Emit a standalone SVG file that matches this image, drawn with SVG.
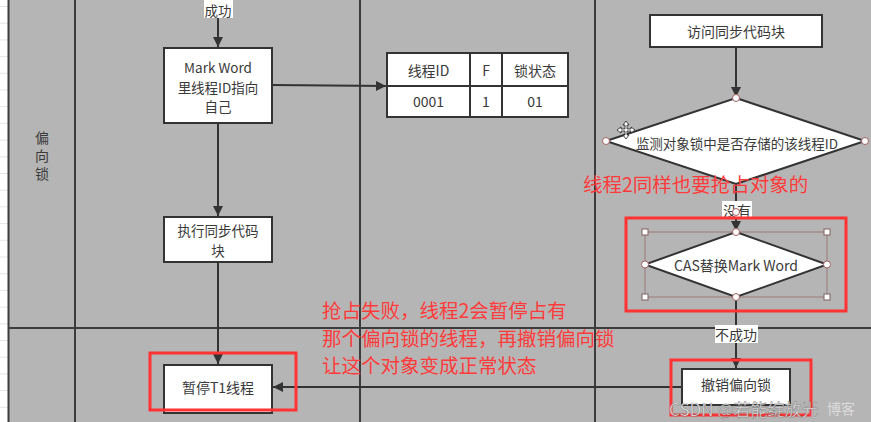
<svg xmlns="http://www.w3.org/2000/svg" width="871" height="422" viewBox="0 0 871 422">
<defs>
<style>
.t{font-family:"Noto Sans CJK SC","Liberation Sans",sans-serif;font-size:14px;fill:#3a3a3a;text-anchor:middle;dominant-baseline:central}
.t2{font-size:13.5px}
.red{font-family:"Noto Sans CJK SC","Liberation Sans",sans-serif;font-size:19.5px;fill:#ff3b3b}
.box{fill:#fff;stroke:#333;stroke-width:2}
.grid{stroke:#3c3c3c;stroke-width:2;fill:none}
.conn{stroke:#333;stroke-width:2;fill:none}
.hl{fill:none;stroke:#ff3333;stroke-width:3}
.lbl{fill:#fff}
.hc{fill:#fff;stroke:#a06060;stroke-width:1}
.hs{fill:#fff;stroke:#806060;stroke-width:1}
</style>
<marker id="ar" viewBox="0 0 10 10" refX="10" refY="5" markerWidth="10" markerHeight="10" markerUnits="userSpaceOnUse" orient="auto">
<path d="M0,0 L10,5 L0,10 z" fill="#333"/>
</marker>
<pattern id="strip" width="8" height="16.7" patternUnits="userSpaceOnUse" y="6">
<rect width="8" height="16.7" fill="#fff"/>
<line x1="0" y1="0.5" x2="8" y2="0.5" stroke="#e4e4e4" stroke-width="1"/>
</pattern>
</defs>
<rect x="0" y="0" width="871" height="422" fill="#b5b5b5"/>
<rect x="0" y="0" width="8" height="422" fill="url(#strip)"/>
<g id="lanes">
<line class="grid" x1="8.5" y1="0" x2="8.5" y2="422"/>
<line class="grid" x1="75" y1="0" x2="75" y2="422"/>
<line class="grid" x1="360" y1="0" x2="360" y2="422"/>
<line class="grid" x1="595" y1="0" x2="595" y2="422"/>
<line class="grid" x1="8" y1="328" x2="871" y2="328"/>
<text x="42" y="131" style="font-family:'Noto Sans CJK SC',sans-serif;font-size:14px;fill:#3a3a3a;writing-mode:vertical-rl;letter-spacing:4px">偏向锁</text>
</g>
<g id="connectors">
<line class="conn" x1="218" y1="0" x2="218" y2="47" marker-end="url(#ar)"/>
<line class="conn" x1="273" y1="85" x2="386" y2="86" marker-end="url(#ar)"/>
<line class="conn" x1="218" y1="123" x2="218" y2="216" marker-end="url(#ar)"/>
<line class="conn" x1="218" y1="262" x2="218" y2="364" marker-end="url(#ar)"/>
<line class="conn" x1="736" y1="47" x2="736" y2="97" marker-end="url(#ar)"/>
<line class="conn" x1="736" y1="184" x2="736" y2="231" marker-end="url(#ar)"/>
<line class="conn" x1="736" y1="297" x2="736" y2="368" marker-end="url(#ar)"/>
<line class="conn" x1="682" y1="387" x2="273" y2="387" marker-end="url(#ar)"/>
<rect class="lbl" x="204" y="0" width="29" height="18"/>
<text class="t t2" x="218" y="10">成功</text>
<rect class="lbl" x="722" y="201" width="30" height="18"/>
<text class="t" x="737" y="210">没有</text>
<circle class="hc" cx="736" cy="212" r="3.5"/>
<rect class="lbl" x="715" y="325" width="43" height="18"/>
<text class="t" x="736" y="334">不成功</text>
</g>
<g id="n-markword">
<rect class="box" x="164" y="48" width="108" height="75"/>
<text class="t t2" x="218" y="67">Mark Word</text>
<text class="t t2" x="218" y="86.5">里线程ID指向</text>
<text class="t t2" x="218" y="106">自己</text>
</g>
<g id="n-table">
<rect class="box" x="387" y="53" width="181" height="64"/>
<line class="conn" x1="387" y1="86" x2="568" y2="86"/>
<line class="conn" x1="470" y1="53" x2="470" y2="117"/>
<line class="conn" x1="502" y1="53" x2="502" y2="117"/>
<text class="t" x="428.5" y="70">线程ID</text>
<text class="t" x="486" y="70">F</text>
<text class="t" x="535" y="70">锁状态</text>
<text class="t" x="428.5" y="101">0001</text>
<text class="t" x="486" y="101">1</text>
<text class="t" x="535" y="101">01</text>
</g>
<g id="n-exec">
<rect class="box" x="164" y="217" width="108" height="45"/>
<text class="t t2" x="218" y="230">执行同步代码</text>
<text class="t t2" x="218" y="250">块</text>
</g>
<g id="n-pause">
<rect class="box" x="164" y="365" width="108" height="48"/>
<text class="t" x="218" y="387">暂停T1线程</text>
<rect class="hl" x="150" y="353" width="146" height="57"/>
</g>
<g id="n-access">
<rect class="box" x="650" y="15" width="172" height="32"/>
<text class="t" x="736" y="31">访问同步代码块</text>
</g>
<g id="n-check">
<polygon class="box" points="736,98 865,141 736,184 606,141"/>
<text class="t" x="737" y="143" style="font-size:13.5px">监测对象锁中是否存储的该线程ID</text>
<circle class="hc" cx="736" cy="98" r="3.5"/>
<circle class="hc" cx="606" cy="141" r="3.5"/>
<circle class="hc" cx="865" cy="141" r="3.5"/>
<g id="cursor" fill="#fff" stroke="#222" stroke-width="0.8">
<path d="M626,121 l3,4 h-2 v4 h4 v-2 l4,3 l-4,3 v-2 h-4 v4 h2 l-3,4 l-3,-4 h2 v-4 h-4 v2 l-4,-3 l4,-3 v2 h4 v-4 h-2 z"/>
</g>
</g>
<g id="n-cas">
<rect x="645" y="232" width="182" height="65" fill="none" stroke="#9a7a7a" stroke-width="1"/>
<polygon class="box" points="736,232 827,264.5 736,297 645,264.5"/>
<text class="t" x="736" y="265">CAS替换Mark Word</text>
<rect class="hs" x="642" y="229" width="6" height="6"/>
<rect class="hs" x="824" y="229" width="6" height="6"/>
<rect class="hs" x="642" y="294" width="6" height="6"/>
<rect class="hs" x="824" y="294" width="6" height="6"/>
<circle class="hc" cx="736" cy="232" r="3.5"/>
<circle class="hc" cx="645" cy="264.5" r="3.5"/>
<circle class="hc" cx="827" cy="264.5" r="3.5"/>
<circle class="hc" cx="736" cy="297" r="3.5"/>
<rect class="hl" x="626" y="218" width="220" height="93"/>
</g>
<g id="n-revoke">
<rect class="box" x="682" y="369" width="108" height="36"/>
<text class="t" x="736" y="384">撤销偏向锁</text>
<rect class="hl" x="671" y="360" width="140" height="55"/>
</g>
<g id="notes">
<text class="red" x="322" y="318">抢占失败，线程2会暂停占有</text>
<text class="red" x="322" y="346">那个偏向锁的线程，再撤销偏向锁</text>
<text class="red" x="322" y="373">让这个对象变成正常状态</text>
<text class="red" x="583" y="192">线程2同样也要抢占对象的</text>
</g>
<g id="watermark">
<text x="827" y="414" style="font-family:'Noto Sans CJK SC',sans-serif;font-size:14px;fill:#dcdcdc">博客</text>
<text x="669" y="416" style="font-family:'Noto Sans CJK SC',sans-serif;font-size:17px;fill:#ffffff;fill-opacity:0.9;stroke:#444;stroke-opacity:0.5;stroke-width:0.7">CSDN @若能绽放光</text>
</g>
</svg>
